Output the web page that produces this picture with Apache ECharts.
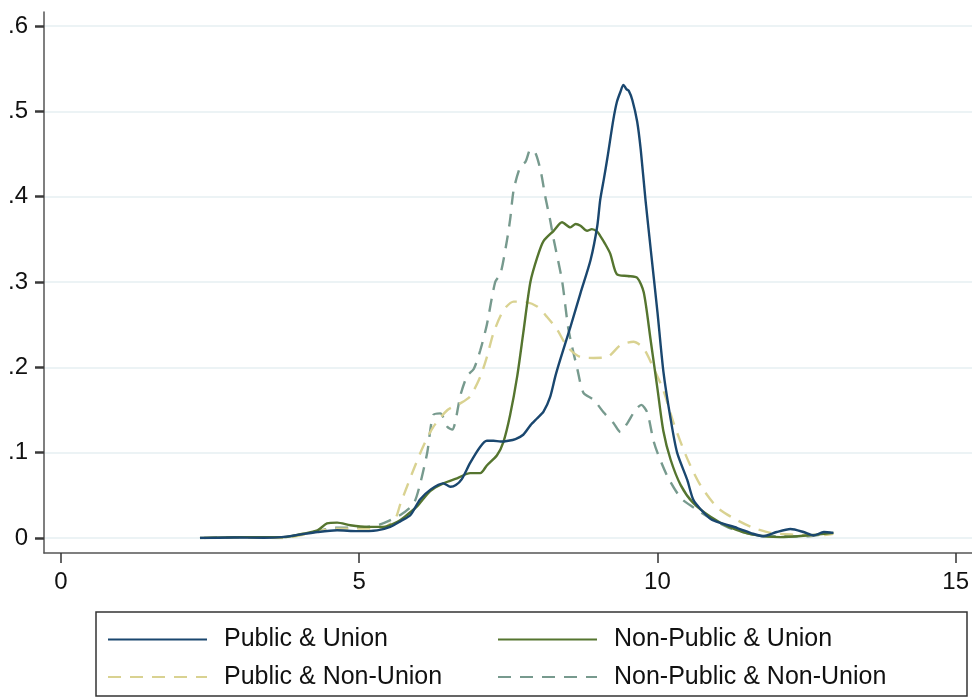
<!DOCTYPE html>
<html>
<head>
<meta charset="utf-8">
<script src="https://cdn.jsdelivr.net/npm/echarts@6/dist/echarts.min.js"></script>
<style>
html,body{margin:0;padding:0;background:#fff;}
#chart{width:972px;height:698px;}
</style>
</head>
<body>
<div id="chart"></div>
<script>
// ---- data (x = value, y = density) ----
var seriesNames = ['Public & Union', 'Non-Public & Union', 'Public & Non-Union', 'Non-Public & Non-Union'];
var legendCol1 = ['Public & Union', 'Public & Non-Union'];
var legendCol2 = ['Non-Public & Union', 'Non-Public & Non-Union'];

var pubUnion = [[2.33,0],[2.9,0.0005],[3.4,0.0003],[3.7,0.001],[4.0,0.004],[4.3,0.007],[4.63,0.009],[4.97,0.008],[5.3,0.009],[5.52,0.013],[5.7,0.02],[5.86,0.027],[6.02,0.045],[6.2,0.057],[6.41,0.064],[6.53,0.06],[6.62,0.062],[6.72,0.069],[6.86,0.088],[7.03,0.107],[7.14,0.114],[7.25,0.114],[7.37,0.113],[7.5,0.114],[7.62,0.116],[7.75,0.121],[7.87,0.132],[7.98,0.14],[8.09,0.148],[8.2,0.165],[8.29,0.19],[8.37,0.209],[8.54,0.247],[8.71,0.287],[8.88,0.326],[8.99,0.365],[9.04,0.396],[9.1,0.42],[9.16,0.445],[9.26,0.49],[9.32,0.511],[9.38,0.523],[9.43,0.531],[9.48,0.526],[9.52,0.524],[9.58,0.513],[9.66,0.488],[9.72,0.455],[9.8,0.396],[9.9,0.33],[10.0,0.265],[10.1,0.195],[10.22,0.14],[10.33,0.1],[10.5,0.068],[10.6,0.045],[10.72,0.034],[10.9,0.022],[11.06,0.0176],[11.34,0.0117],[11.6,0.005],[11.78,0.002],[12.0,0.007],[12.23,0.0105],[12.45,0.007],[12.62,0.003],[12.79,0.007],[12.95,0.006]];

var nonPubUnion = [[2.33,0],[3.0,0.001],[3.73,0.001],[4.06,0.005],[4.3,0.009],[4.46,0.017],[4.63,0.018],[4.85,0.015],[5.13,0.013],[5.4,0.013],[5.64,0.019],[5.8,0.027],[5.97,0.037],[6.19,0.055],[6.41,0.064],[6.64,0.07],[6.86,0.076],[7.03,0.076],[7.14,0.085],[7.31,0.097],[7.42,0.113],[7.53,0.144],[7.65,0.19],[7.75,0.24],[7.87,0.3],[7.99,0.33],[8.09,0.348],[8.26,0.36],[8.4,0.37],[8.54,0.364],[8.63,0.368],[8.71,0.366],[8.82,0.36],[8.9,0.362],[8.99,0.359],[9.04,0.354],[9.12,0.345],[9.21,0.333],[9.32,0.309],[9.5,0.307],[9.66,0.305],[9.77,0.288],[9.88,0.235],[10.0,0.175],[10.1,0.125],[10.22,0.092],[10.39,0.062],[10.6,0.041],[10.89,0.025],[11.2,0.013],[11.6,0.004],[12.06,0.001],[12.5,0.003],[12.95,0.006]];

var pubNonUnion = [[2.4,0],[3.0,0.001],[3.7,0],[4.0,0.003],[4.3,0.008],[4.63,0.011],[4.97,0.011],[5.4,0.012],[5.6,0.022],[5.69,0.04],[5.8,0.06],[5.91,0.08],[6.07,0.107],[6.24,0.13],[6.48,0.15],[6.7,0.158],[6.86,0.166],[7.03,0.189],[7.14,0.212],[7.25,0.24],[7.42,0.267],[7.59,0.277],[7.75,0.277],[7.99,0.271],[8.15,0.259],[8.32,0.244],[8.49,0.224],[8.71,0.212],[8.93,0.211],[9.16,0.212],[9.38,0.226],[9.6,0.23],[9.77,0.222],[9.93,0.2],[10.1,0.173],[10.27,0.135],[10.5,0.093],[10.72,0.062],[11.0,0.036],[11.28,0.023],[11.6,0.012],[11.9,0.006],[12.28,0.004],[12.73,0.003],[12.95,0.005]];

var nonPubNonUnion = [[2.4,0],[3.0,0.001],[3.7,0],[4.0,0.004],[4.3,0.008],[4.6,0.012],[4.97,0.012],[5.35,0.016],[5.69,0.027],[5.91,0.04],[6.02,0.063],[6.14,0.1],[6.24,0.144],[6.36,0.146],[6.48,0.13],[6.56,0.127],[6.7,0.168],[6.81,0.19],[6.92,0.198],[7.03,0.22],[7.14,0.25],[7.28,0.3],[7.37,0.31],[7.48,0.35],[7.53,0.373],[7.59,0.408],[7.7,0.435],[7.79,0.441],[7.87,0.455],[7.95,0.452],[8.04,0.431],[8.12,0.4],[8.2,0.373],[8.26,0.35],[8.4,0.302],[8.51,0.244],[8.66,0.197],[8.76,0.17],[8.93,0.162],[9.1,0.147],[9.26,0.135],[9.38,0.124],[9.5,0.135],[9.63,0.15],[9.73,0.156],[9.83,0.147],[9.93,0.115],[10.0,0.1],[10.17,0.072],[10.39,0.047],[10.6,0.036],[10.89,0.023],[11.2,0.012],[11.6,0.004],[12.06,0.002],[12.5,0.002],[12.9,0.006]];

// ---- layout ----
var plotLeft = 61, plotRight = 956, plotTop = 26, plotBottom = 538;
var frameLeft = 44, frameTop = 12, frameBottom = 553;
var yMax = 0.6, xMax = 15;
var pxPerY = (plotBottom - plotTop) / yMax;
var frameYMin = -(frameBottom - plotBottom) / pxPerY;
var frameYMax = yMax + (plotTop - frameTop) / pxPerY;

var FONT = 'Liberation Sans, Arial, Helvetica, sans-serif';
var colors = ['#1a476f', '#55752f', '#d9d291', '#779a8e'];
var dataSets = [pubUnion, nonPubUnion, pubNonUnion, nonPubNonUnion];
var dashed = [false, false, true, true];

var chart = echarts.init(document.getElementById('chart'), null, {renderer: 'canvas'});

var series = seriesNames.map(function (n, i) {
  return {
    name: n,
    type: 'line',
    xAxisIndex: 0,
    yAxisIndex: 0,
    data: dataSets[i],
    symbol: 'none',
    smooth: 0.25,
    z: 10 - i,
    lineStyle: {color: colors[i], width: 2.4, type: dashed[i] ? [13, 9] : 'solid'},
    itemStyle: {color: colors[i]}
  };
});

function legendCol(left, names) {
  return {
    left: left, top: 627,
    orient: 'vertical',
    padding: 0,
    itemGap: 12.5,
    itemWidth: 99, itemHeight: 14,
    itemStyle: {opacity: 0, color: 'rgba(0,0,0,0)', borderWidth: 0},
    data: names,
    textStyle: {fontFamily: FONT, fontSize: 25, color: '#111', padding: [0, 0, 0, 12]}
  };
}

var option = {
  backgroundColor: '#ffffff',
  animation: false,
  grid: [
    {left: plotLeft, right: 972 - plotRight, top: plotTop, bottom: 698 - plotBottom, containLabel: false},
    {left: frameLeft, right: 0, top: frameTop, bottom: 698 - frameBottom, containLabel: false}
  ],
  xAxis: [
    {
      type: 'value', gridIndex: 0, min: 0, max: xMax, interval: 5, offset: frameBottom - plotBottom,
      axisLine: {show: true, onZero: false, lineStyle: {color: 'rgba(0,0,0,0)', width: 1}},
      axisTick: {show: true, inside: false, length: 10, lineStyle: {color: '#333', width: 1.5}},
      axisLabel: {fontFamily: FONT, fontSize: 24, color: '#111', margin: 17},
      splitLine: {show: false}
    },
    {
      type: 'value', gridIndex: 1, min: 0, max: 1,
      axisLine: {show: true, onZero: false, lineStyle: {color: '#555', width: 1.5}},
      axisTick: {show: false}, axisLabel: {show: false}, splitLine: {show: false}
    }
  ],
  yAxis: [
    {
      type: 'value', gridIndex: 0, position: 'left', min: 0, max: yMax, interval: 0.1, offset: plotLeft - frameLeft,
      axisLine: {show: true, onZero: false, lineStyle: {color: 'rgba(0,0,0,0)', width: 1}},
      axisTick: {show: true, inside: false, length: 9, lineStyle: {color: '#3a3a3a', width: 2.5}},
      axisLabel: {
        fontFamily: FONT, fontSize: 24, color: '#111', margin: 16,
        formatter: function (v) { return v === 0 ? '0' : v.toFixed(1).replace(/^0/, ''); }
      },
      splitLine: {show: false}
    },
    {
      type: 'value', gridIndex: 1, min: frameYMin, max: frameYMax, minInterval: 0.1, maxInterval: 0.1,
      axisLine: {show: true, onZero: false, lineStyle: {color: '#555', width: 1.5}},
      axisTick: {show: false}, axisLabel: {show: false},
      splitLine: {show: true, showMinLine: false, showMaxLine: false, lineStyle: {color: '#e6eff2', width: 1.5}}
    }
  ],
  legend: [legendCol(107, legendCol1), legendCol(497, legendCol2)],
  graphic: [{
    type: 'rect', silent: true,
    shape: {x: 96, y: 612, width: 871, height: 84},
    style: {fill: 'none', stroke: '#333', lineWidth: 1.5}
  }],
  series: series
};
chart.setOption(option);
</script>
</body>
</html>
